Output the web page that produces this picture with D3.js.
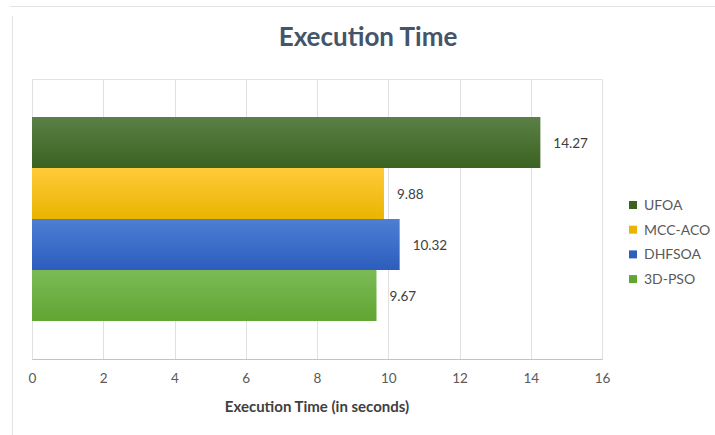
<!DOCTYPE html>
<html>
<head>
<meta charset="utf-8">
<script src="https://cdn.jsdelivr.net/npm/d3@7"></script>
<style>
  html, body { margin: 0; padding: 0; background: #fff; }
  svg { display: block; font-family: Lato, "Open Sans", sans-serif; }
</style>
</head>
<body>
<svg id="chart" width="715" height="435"></svg>
<script>
// Execution time per algorithm (seconds)
const seriesNames = ["UFOA", "MCC-ACO", "DHFSOA", "3D-PSO"];
const seriesValues = [14.27, 9.88, 10.32, 9.67];
const seriesTop = ["#5b8046", "#ffca3a", "#4d7fd4", "#7cba56"];
const seriesBottom = ["#3a6220", "#eab400", "#2d5dbd", "#60a632"];
const xTicks = [0, 2, 4, 6, 8, 10, 12, 14, 16];
const titleText = "Execution Time";
const xAxisTitle = "Execution Time (in seconds)";

const svg = d3.select("#chart");
const W = 715, H = 435;
const margin = { top: 79, right: 113, bottom: 76, left: 32 };
const iw = W - margin.left - margin.right;
const ih = H - margin.top - margin.bottom;

// Chart frame lines
svg.append("line").attr("x1", 10).attr("x2", W).attr("y1", 6.5).attr("y2", 6.5)
  .attr("stroke", "#e4e4e4").attr("stroke-width", 1);
svg.append("line").attr("x1", 12.5).attr("x2", 12.5).attr("y1", 16).attr("y2", H)
  .attr("stroke", "#e4e4e4").attr("stroke-width", 1);

// Gradients for bars
const defs = svg.append("defs");
seriesNames.forEach((s, i) => {
  const g = defs.append("linearGradient").attr("id", "grad" + i)
    .attr("x1", 0).attr("x2", 0).attr("y1", 0).attr("y2", 1);
  g.append("stop").attr("offset", "0%").attr("stop-color", seriesTop[i]);
  g.append("stop").attr("offset", "100%").attr("stop-color", seriesBottom[i]);
});

const x = d3.scaleLinear().domain([0, 16]).range([0, iw]);
const y = d3.scaleBand().domain(seriesNames).range([0, ih]).paddingInner(0).paddingOuter(0.745);

const g = svg.append("g").attr("transform", `translate(${margin.left},${margin.top})`);

// Plot border + gridlines
g.append("rect").attr("x", 0.5).attr("y", 0.5).attr("width", iw).attr("height", ih)
  .attr("fill", "none").attr("stroke", "#e2e2e2");
g.selectAll(".grid").data(xTicks).enter().append("line")
  .attr("x1", d => Math.round(x(d)) + 0.5).attr("x2", d => Math.round(x(d)) + 0.5)
  .attr("y1", 0).attr("y2", ih)
  .attr("stroke", "#e0e0e0").attr("stroke-width", 1);

// Bars
g.selectAll(".bar").data(seriesNames).enter().append("rect")
  .attr("x", 0)
  .attr("y", d => y(d))
  .attr("width", (d, i) => x(seriesValues[i]))
  .attr("height", y.bandwidth())
  .attr("fill", (d, i) => `url(#grad${i})`);

// Value labels
g.selectAll(".val").data(seriesNames).enter().append("text")
  .attr("x", (d, i) => x(seriesValues[i]) + 13)
  .attr("y", d => y(d) + y.bandwidth() / 2 + 1)
  .attr("dy", "0.35em")
  .attr("font-size", 13.5)
  .attr("fill", "#404040")
  .text((d, i) => seriesValues[i].toFixed(2));

// X axis
const xAxis = d3.axisBottom(x).tickValues(xTicks).tickSize(0).tickPadding(14);
const ax = g.append("g").attr("transform", `translate(0,${ih})`).call(xAxis);
ax.select(".domain").attr("stroke", "#bfc4cc").attr("d", `M0.5,0.5H${iw + 0.5}`);
ax.selectAll("text").attr("font-size", 13.5).attr("fill", "#595959")
  .attr("font-family", "Lato, 'Open Sans', sans-serif");

// Axis title
svg.append("text")
  .attr("x", margin.left + iw / 2)
  .attr("y", 412)
  .attr("text-anchor", "middle")
  .attr("font-size", 15)
  .attr("font-weight", "bold")
  .attr("fill", "#404040")
  .text(xAxisTitle);

// Title
svg.append("text")
  .attr("x", 368)
  .attr("y", 46)
  .attr("text-anchor", "middle")
  .attr("font-size", 26)
  .attr("font-weight", "bold")
  .attr("fill", "#44546a")
  .text(titleText);

// Legend
const leg = svg.append("g").attr("transform", "translate(629,205)");
const li = leg.selectAll(".li").data(seriesNames).enter().append("g")
  .attr("transform", (d, i) => `translate(0,${i * 24.7})`);
li.append("rect").attr("x", 0).attr("y", -4).attr("width", 8).attr("height", 8)
  .attr("fill", (d, i) => seriesBottom[i]);
li.append("text").attr("x", 15).attr("y", 0).attr("dy", "0.35em")
  .attr("font-size", 14).attr("fill", "#595959").text(d => d);
</script>
</body>
</html>
